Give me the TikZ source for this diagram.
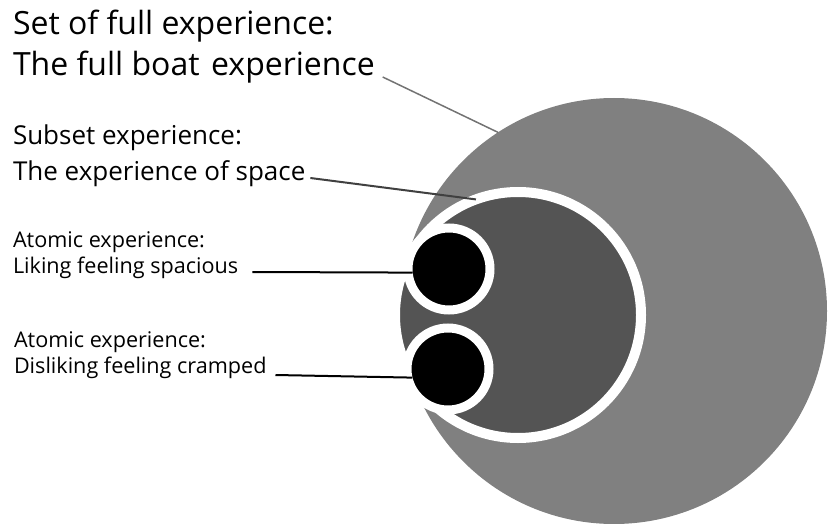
\documentclass[tikz,border=0pt]{standalone}
\usepackage{fontspec}
\setmainfont{Open Sans}
\usepackage{xcolor}
\usepackage{tikz}
\usetikzlibrary{positioning}

\begin{document}
\begin{tikzpicture}[
  x=1pt, y=-1pt,
  every node/.style={inner sep=0pt, outer sep=0pt},
  setcirc/.style={circle, fill=black!50, minimum size=426pt},
  subcirc/.style={circle, fill=black!67, draw=white, line width=10pt, minimum size=246pt},
  atomcirc/.style={circle, fill=black, draw=white, line width=9pt, minimum size=82pt},
  biglbl/.style={anchor=base west, font=\fontsize{32}{38}\selectfont},
  midlbl/.style={anchor=base west, font=\fontsize{26}{31}\selectfont},
  smalllbl/.style={anchor=base west, font=\fontsize{21.6}{26}\selectfont},
  lead/.style={line width=2pt, black}
]
\useasboundingbox (0,0) rectangle (830,524);

% --- Circles ---
\node[setcirc]  (fullset) at (614,311) {};
\node[subcirc]  (subset)  at (518,315) {};
\node[atomcirc] (liking)  at (449,269) {};
\node[atomcirc] (dislike) at (448,369) {};

% --- Labels ---
\node[biglbl] (settxt)   at (13,35)  {Set of full experience:};
\node[biglbl] (boattxt)  at (13,76)  {The full boat\hspace{0.1em} experience};
\node[midlbl] (subtxt)   at (13,145) {Subset experience:};
\node[midlbl] (spacetxt) at (13,180) {The experience of space};
\node[smalllbl] (atomtxta) at (13,247) {Atomic experience:};
\node[smalllbl] (liketxt)  at (13,273) {Liking feeling spacious};
\node[smalllbl] (atomtxtb) at (14,347) {Atomic experience:};
\node[smalllbl] (cramptxt) at (14,373) {Disliking feeling cramped};

% --- Leader lines ---
\draw[lead, line width=1.5pt, black!55] ([shift={(8,1)}]boattxt.base east) -- (fullset.123);
\draw[lead, black!75] ([shift={(5,-2)}]spacetxt.base east) -- (subset.110);
\draw[lead, shorten >=-4.5pt] ([shift={(14,-1)}]liketxt.base east) -- (liking.185);
\draw[lead, shorten >=-4.5pt] ([shift={(9,2)}]cramptxt.base east) -- (dislike.192);

\end{tikzpicture}
\end{document}
